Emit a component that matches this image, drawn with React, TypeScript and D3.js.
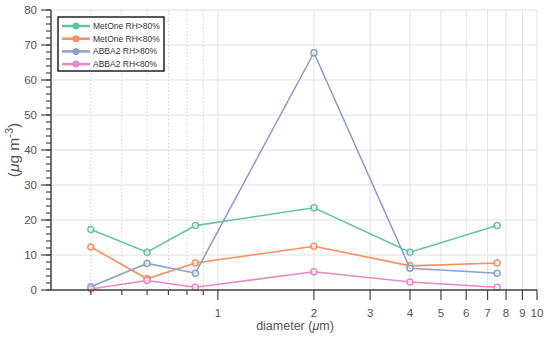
import React from "react";
import * as d3 from "d3";

// particle diameter bins (µm)
const diameters = [0.4, 0.6, 0.85, 2, 4, 7.5];

const metOneHigh = [17.3, 10.8, 18.4, 23.5, 10.8, 18.4];
const metOneLow = [12.3, 3.2, 7.7, 12.5, 6.9, 7.7];
const abbaHigh = [0.95, 7.6, 4.8, 67.8, 6.2, 4.8];
const abbaLow = [0.3, 2.7, 0.8, 5.2, 2.3, 0.8];

const seriesNames = ["MetOne RH>80%", "MetOne RH<80%", "ABBA2 RH>80%", "ABBA2 RH<80%"];
const seriesColors = ["#66c2a5", "#fc8d62", "#8da0cb", "#e78ac3"];

const xMajorTicks = [1, 2, 3, 4, 5, 6, 7, 8, 9, 10];
const xMinorTicks = [0.4, 0.5, 0.6, 0.7, 0.8, 0.9];
const yTicks = [0, 10, 20, 30, 40, 50, 60, 70, 80];
const yMinorTicks = d3.range(0, 81, 2);

const App = () => {
    const width = 550;
    const height = 342;
    const margin = { top: 10, right: 13, bottom: 52, left: 51 };

    const x = d3
        .scaleLog()
        .domain([0.3, 10])
        .range([margin.left, width - margin.right]);

    const y = d3
        .scaleLinear()
        .domain([0, 80])
        .range([height - margin.bottom, margin.top]);

    const allSeries = [metOneHigh, metOneLow, abbaHigh, abbaLow];
    const line = d3
        .line<number>()
        .x((_, i) => x(diameters[i]))
        .y((d) => y(d));

    const axisColor = "#444";
    const textColor = "#555";
    const font = "'Liberation Sans', Arial, sans-serif";
    const y0 = y(0);

    return (
        <svg
            width={width}
            height={height}
            style={{ position: "absolute", left: 0, top: 0, background: "#fff" }}
            fontFamily={font}
        >
            {/* horizontal grid */}
            {yTicks.map((t) => (
                <line key={"gy" + t} x1={margin.left} x2={width - margin.right} y1={y(t)} y2={y(t)} stroke="#e2e2e2" strokeWidth={1} />
            ))}
            {/* vertical grid: dotted below 1, solid above */}
            {xMinorTicks.map((t) => (
                <line key={"gxm" + t} x1={x(t)} x2={x(t)} y1={margin.top} y2={y0} stroke="#cfcfcf" strokeWidth={1} strokeDasharray="1.5,2" />
            ))}
            {xMajorTicks.map((t) => (
                <line key={"gx" + t} x1={x(t)} x2={x(t)} y1={margin.top} y2={y0} stroke="#e2e2e2" strokeWidth={1} />
            ))}

            {/* data lines */}
            {allSeries.map((s, i) => (
                <g key={"s" + i}>
                    <path d={line(s) || ""} fill="none" stroke={seriesColors[i]} strokeWidth={1.6} />
                    {s.map((v, j) => (
                        <circle key={j} cx={x(diameters[j])} cy={y(v)} r={3} fill="#fff" fillOpacity={0.6} stroke={seriesColors[i]} strokeWidth={1.5} />
                    ))}
                </g>
            ))}

            {/* x axis */}
            <line x1={margin.left} x2={width - margin.right} y1={y0} y2={y0} stroke={axisColor} strokeWidth={1.5} />
            {xMinorTicks.map((t) => (
                <line key={"xm" + t} x1={x(t)} x2={x(t)} y1={y0} y2={y0 + 5} stroke={axisColor} strokeWidth={1.2} />
            ))}
            {xMajorTicks.map((t) => (
                <g key={"xt" + t}>
                    <line x1={x(t)} x2={x(t)} y1={y0} y2={y0 + 10} stroke={axisColor} strokeWidth={1.2} />
                    <text x={x(t)} y={y0 + 27} textAnchor="middle" fontSize={11.5} fill={textColor}>{t}</text>
                </g>
            ))}
            <text x={295} y={330} textAnchor="middle" fontSize={12.5} fill={textColor}>
                diameter (<tspan fontStyle="italic">μ</tspan>m)
            </text>

            {/* y axis */}
            <line x1={margin.left} x2={margin.left} y1={margin.top} y2={y0} stroke={axisColor} strokeWidth={1.5} />
            {yMinorTicks.map((t) => (
                <line key={"ym" + t} x1={margin.left - 5} x2={margin.left} y1={y(t)} y2={y(t)} stroke={axisColor} strokeWidth={1.2} />
            ))}
            {yTicks.map((t) => (
                <g key={"yt" + t}>
                    <line x1={margin.left - 10} x2={margin.left} y1={y(t)} y2={y(t)} stroke={axisColor} strokeWidth={1.2} />
                    <text x={margin.left - 14} y={y(t)} dy="0.35em" textAnchor="end" fontSize={11.5} fill={textColor}>{t}</text>
                </g>
            ))}
            <text transform={`translate(19,150) rotate(-90)`} textAnchor="middle" fontSize={15.5} fill={textColor}>
                (<tspan fontStyle="italic">μ</tspan>g m<tspan dy={-6} fontSize={11}>-3</tspan><tspan dy={6}>)</tspan>
            </text>

            {/* legend */}
            <rect x={58} y={17} width={106} height={54} fill="#fff" stroke="#222" strokeWidth={1.5} />
            {seriesNames.map((name, i) => {
                const ly = 26 + i * 12.7;
                return (
                    <g key={"lg" + i}>
                        <line x1={62} x2={90} y1={ly} y2={ly} stroke={seriesColors[i]} strokeWidth={2.5} />
                        <circle cx={76} cy={ly} r={3.5} fill={seriesColors[i]} />
                        <text x={93} y={ly} dy="0.35em" fontSize={8.5} fill="#333">{name}</text>
                    </g>
                );
            })}
        </svg>
    );
};

export default App;
